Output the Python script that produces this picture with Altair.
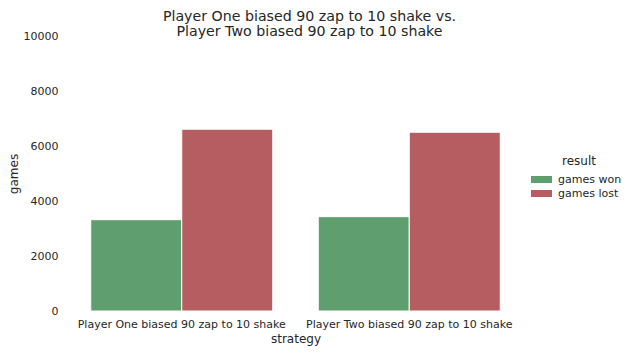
import altair as alt
import pandas as pd

strategies = ["Player One biased 90 zap to 10 shake", "Player Two biased 90 zap to 10 shake"]
results = ["games won", "games lost"]
games_won = [3320, 3430]
games_lost = [6610, 6500]
colors = ["#5f9e6e", "#b55d60"]
y_ticks = [0, 2000, 4000, 6000, 8000, 10000]

rows = []
for s, w, l in zip(strategies, games_won, games_lost):
    rows.append({"strategy": s, "result": results[0], "games": w})
    rows.append({"strategy": s, "result": results[1], "games": l})
df = pd.DataFrame(rows)

FONT = "DejaVu Sans"
TXT = "#262626"

chart = alt.Chart(df).mark_bar(stroke="white", strokeWidth=1).encode(
    x=alt.X("strategy:N", sort=strategies, title="strategy",
            scale=alt.Scale(paddingInner=0.2, paddingOuter=0.1),
            axis=alt.Axis(labelAngle=0, domain=False, ticks=False, grid=False,
                          labelFontSize=11, titleFontSize=12, labelPadding=7,
                          titlePadding=4, labelColor=TXT, titleColor=TXT, labelLimit=0,
                          titleFontWeight="normal", labelFont=FONT, titleFont=FONT)),
    xOffset=alt.XOffset("result:N", sort=results,
                        scale=alt.Scale(paddingInner=0, paddingOuter=0)),
    y=alt.Y("games:Q", title="games",
            scale=alt.Scale(domain=[0, 10000], nice=False),
            axis=alt.Axis(values=y_ticks, format="d", domain=False, ticks=False, grid=False,
                          labelFontSize=11, titleFontSize=12, labelPadding=10,
                          titlePadding=3, labelColor=TXT, titleColor=TXT,
                          titleFontWeight="normal", labelFont=FONT, titleFont=FONT)),
    color=alt.Color("result:N", sort=results, title="result",
                    scale=alt.Scale(domain=results, range=colors),
                    legend=alt.Legend(orient="none", legendX=468, legendY=120,
                                      titleFontSize=12, titleFontWeight="normal",
                                      titleColor=TXT, labelColor=TXT, labelFontSize=11,
                                      titleFont=FONT, labelFont=FONT,
                                      titleAnchor="middle",
                                      symbolType="M-3,-1H3V1H-3Z", symbolSize=49,
                                      symbolStrokeWidth=0, symbolOpacity=1,
                                      labelOffset=11, rowPadding=2, titlePadding=6)),
).properties(
    width=455, height=275,
    title=alt.TitleParams(["Player One biased 90 zap to 10 shake vs.",
                           "Player Two biased 90 zap to 10 shake"],
                          fontSize=14.2, font=FONT, color=TXT, fontWeight="normal",
                          anchor="middle", dx=14, lineHeight=15, offset=-9),
    padding={"left": 68, "top": 36, "right": 110, "bottom": 43},
    autosize="none",
    background="white",
).configure_view(stroke=None)

chart.save("out.html", embed_options={"renderer": "svg", "actions": False})
